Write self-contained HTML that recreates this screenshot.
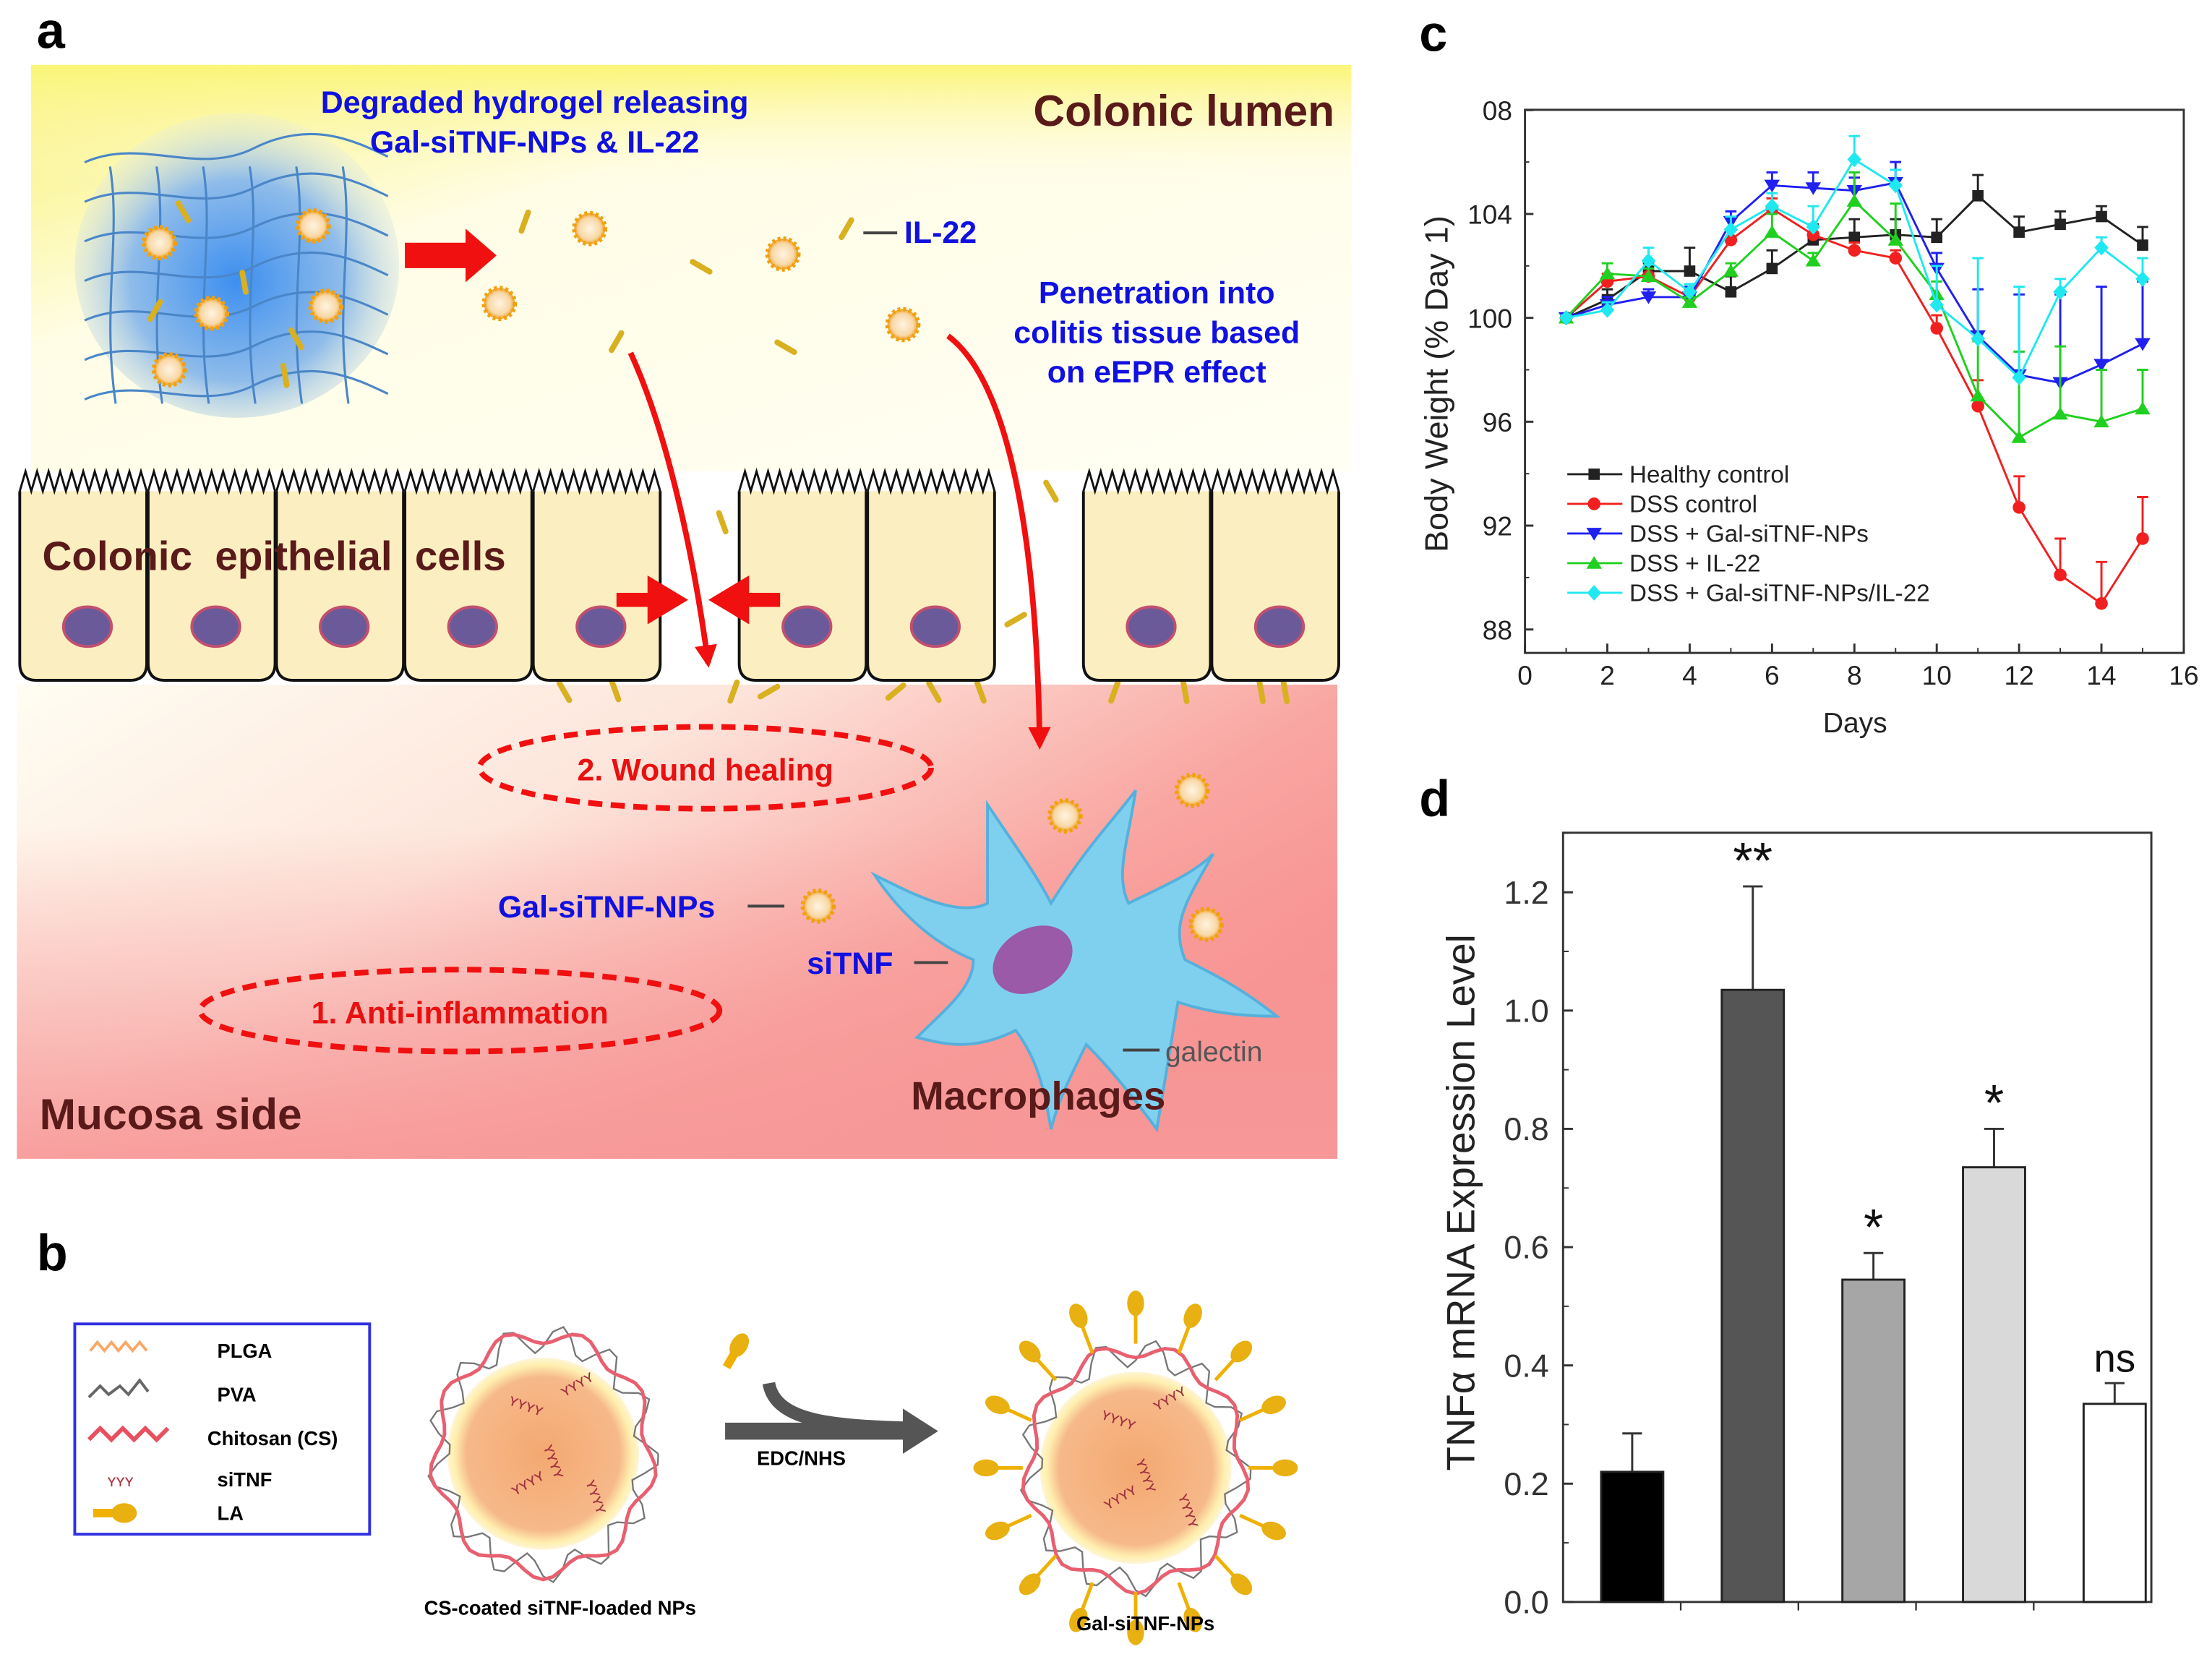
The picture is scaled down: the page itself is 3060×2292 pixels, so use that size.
<!DOCTYPE html>
<html><head><meta charset="utf-8">
<style>
html,body{margin:0;padding:0;background:#fff;}
svg{display:block;font-family:"Liberation Sans",Arial,sans-serif;}
</style></head>
<body>
<svg id="fig" width="3060" height="2292" viewBox="0 0 1568 1174" preserveAspectRatio="none" xmlns="http://www.w3.org/2000/svg">
<defs>
 <linearGradient id="lumen" x1="0" y1="0" x2="1" y2="1">
  <stop offset="0" stop-color="#f8f270"/><stop offset="0.35" stop-color="#fffde6"/><stop offset="1" stop-color="#fffff4"/>
 </linearGradient>
 <linearGradient id="lumenTop" x1="0" y1="0" x2="0" y2="1">
  <stop offset="0" stop-color="#fbf578"/><stop offset="0.3" stop-color="#fffbe0" stop-opacity="0"/>
 </linearGradient>
 <linearGradient id="mucosa" x1="0" y1="0" x2="1" y2="0.6">
  <stop offset="0" stop-color="#fffdf2"/><stop offset="0.4" stop-color="#fde6dc"/><stop offset="0.75" stop-color="#f9a6a2"/><stop offset="1" stop-color="#f79090"/>
 </linearGradient>
 <linearGradient id="mucosaV" x1="0" y1="0" x2="0" y2="1">
  <stop offset="0.3" stop-color="#f79898" stop-opacity="0"/><stop offset="1" stop-color="#f79898" stop-opacity="0.9"/>
 </linearGradient>
 <radialGradient id="gel" cx="0.5" cy="0.55" r="0.55">
  <stop offset="0" stop-color="#3d8ff0"/><stop offset="0.6" stop-color="#8fbcea"/><stop offset="1" stop-color="#e8eedc" stop-opacity="0.3"/>
 </radialGradient>
 <radialGradient id="core" cx="0.5" cy="0.5" r="0.5">
  <stop offset="0" stop-color="#f4a870"/><stop offset="0.8" stop-color="#f6b98a"/><stop offset="0.93" stop-color="#fff0b0"/><stop offset="1" stop-color="#fde9a0" stop-opacity="0.4"/>
 </radialGradient>
 <radialGradient id="npg" cx="0.5" cy="0.5" r="0.5">
  <stop offset="0" stop-color="#fff4e0"/><stop offset="0.7" stop-color="#f8d8a8"/><stop offset="1" stop-color="#f0a020"/>
 </radialGradient>
 <marker id="ah" viewBox="0 0 10 10" refX="8" refY="5" markerWidth="4" markerHeight="4" orient="auto"><path d="M0,0 L10,5 L0,10 z" fill="#f01010"/></marker>
</defs>

<text x="26" y="34" font-size="36" font-weight="bold">a</text>
<text x="26" y="900" font-size="36" font-weight="bold">b</text>
<text x="1006" y="36" font-size="36" font-weight="bold">c</text>
<text x="1006" y="578" font-size="36" font-weight="bold">d</text>

<g>
<rect x="22" y="46" width="936" height="288" fill="url(#lumen)"/>
<rect x="22" y="46" width="936" height="288" fill="url(#lumenTop)"/>
<rect x="12" y="485" width="936" height="336" fill="url(#mucosa)"/>
<rect x="12" y="485" width="936" height="336" fill="url(#mucosaV)"/>
<rect x="12" y="334" width="946" height="151" fill="#ffffff"/>
<ellipse cx="168" cy="188" rx="115" ry="108" fill="url(#gel)"/>
<g id="gelgrid" stroke="#4a86c8" stroke-width="1.6" fill="none"></g>
<g id="particlesA"></g>
<text x="379" y="80" font-size="22" font-weight="bold" fill="#1010e0" text-anchor="middle">Degraded hydrogel releasing</text>
<text x="379" y="108" font-size="22" font-weight="bold" fill="#1010e0" text-anchor="middle">Gal-siTNF-NPs &amp; IL-22</text>
<text x="946" y="89" font-size="31" font-weight="bold" fill="#5a1a1a" text-anchor="end">Colonic lumen</text>
<text x="641" y="172" font-size="22" font-weight="bold" fill="#1010e0">IL-22</text>
<line x1="612" y1="165" x2="636" y2="165" stroke="#444" stroke-width="2"/>
<text x="820" y="215" font-size="22" font-weight="bold" fill="#1010e0" text-anchor="middle">Penetration into</text>
<text x="820" y="243" font-size="22" font-weight="bold" fill="#1010e0" text-anchor="middle">colitis  tissue based</text>
<text x="820" y="271" font-size="22" font-weight="bold" fill="#1010e0" text-anchor="middle">on eEPR effect</text>
<path d="M287,172 L330,172 L330,162 L352,181 L330,200 L330,190 L287,190 z" fill="#f01010"/>
<g id="cells"></g>
<text x="30" y="404" font-size="29" font-weight="bold" fill="#5a1a1a" word-spacing="8">Colonic  epithelial  cells</text>
<path d="M440,423 L462,423 L462,413 L482,425 L462,437 L462,427 L440,427z" fill="#f01010" stroke="#f01010" stroke-width="6"/>
<path d="M550,423 L528,423 L528,413 L508,425 L528,437 L528,427 L550,427z" fill="#f01010" stroke="#f01010" stroke-width="6"/>
<path d="M447,250 C470,300 490,380 502,470" stroke="#f01010" stroke-width="4" fill="none" marker-end="url(#ah)"/>
<path d="M672,238 C715,270 735,380 737,528" stroke="#f01010" stroke-width="4" fill="none" marker-end="url(#ah)"/>
<ellipse cx="500" cy="544" rx="160" ry="29" fill="none" stroke="#f01010" stroke-width="4" stroke-dasharray="10,6"/>
<text x="500" y="553" font-size="22" font-weight="bold" fill="#e81010" text-anchor="middle">2. Wound healing</text>
<ellipse cx="326" cy="716" rx="184" ry="29" fill="none" stroke="#f01010" stroke-width="4" stroke-dasharray="10,6"/>
<text x="326" y="725" font-size="22" font-weight="bold" fill="#e81010" text-anchor="middle">1. Anti-inflammation</text>
<g>
 <path d="M700,570 C720,600 735,620 745,640 C770,600 790,580 805,560 C800,595 790,620 800,640 C820,630 845,620 860,605 C840,640 830,655 840,680 C860,690 880,700 905,720 C870,720 850,715 835,710 C830,740 825,770 820,800 C805,780 790,760 770,740 C760,760 750,780 745,800 C740,770 735,750 720,730 C690,745 670,740 650,735 C670,715 690,700 690,680 C665,670 640,650 620,620 C650,635 680,650 700,640 C700,620 700,600 700,570z" fill="#7fd0ee" stroke="#55b0dc" stroke-width="2"/>
 <ellipse cx="732" cy="680" rx="30" ry="22" fill="#9a5aa8" transform="rotate(-30 732 680)"/>
</g>
<text x="353" y="650" font-size="22" font-weight="bold" fill="#1010e0">Gal-siTNF-NPs</text>
<line x1="530" y1="642" x2="556" y2="642" stroke="#444" stroke-width="2"/>
<text x="572" y="690" font-size="22" font-weight="bold" fill="#1010e0">siTNF</text>
<line x1="648" y1="682" x2="672" y2="682" stroke="#444" stroke-width="2"/>
<text x="826" y="752" font-size="20" fill="#555">galectin</text>
<line x1="796" y1="744" x2="822" y2="744" stroke="#444" stroke-width="2"/>
<text x="736" y="786" font-size="28" font-weight="bold" fill="#5a1a1a" text-anchor="middle">Macrophages</text>
<text x="28" y="800" font-size="31" font-weight="bold" fill="#5a1a1a">Mucosa side</text>
</g>

<g>
<rect x="53" y="938" width="209" height="149" fill="#fff" stroke="#3030e0" stroke-width="2"/>
<path d="M64,957 l5,-6 l5,6 l5,-6 l5,6 l5,-6 l5,6 l5,-6 l5,6" stroke="#f8a868" stroke-width="2" fill="none"/>
<text x="154" y="962" font-size="14" font-weight="bold">PLGA</text>
<path d="M63,990 l8,-8 l6,6 l8,-6 l6,6 l8,-10 l6,8" stroke="#666" stroke-width="2" fill="none"/>
<text x="154" y="993" font-size="14" font-weight="bold">PVA</text>
<path d="M63,1020 l8,-8 l8,8 l8,-8 l8,8 l8,-8 l8,8 l8,-8" stroke="#e85060" stroke-width="3" fill="none"/>
<text x="147" y="1024" font-size="14" font-weight="bold">Chitosan (CS)</text>
<text x="76" y="1053" font-size="12" fill="#b03040">ʏʏʏ</text>
<text x="154" y="1053" font-size="14" font-weight="bold">siTNF</text>
<rect x="66" y="1069" width="20" height="6" fill="#f0b000"/><ellipse cx="88" cy="1072" rx="9" ry="7" fill="#e8b010"/>
<text x="154" y="1077" font-size="14" font-weight="bold">LA</text>
<g id="np1"></g>
<g id="np2"></g>
<g transform="translate(520,960) rotate(-60)"><rect x="-10" y="-3" width="14" height="6" fill="#f0b000"/><ellipse cx="8" cy="0" rx="9" ry="6" fill="#e8b010"/></g>
<path d="M545,980 C550,1010 600,1010 650,1012" stroke="#555" stroke-width="9" fill="none"/>
<path d="M514,1008 L640,1008 L640,998 L665,1014 L640,1030 L640,1020 L514,1020z" fill="#555"/>
<text x="568" y="1038" font-size="14" font-weight="bold" text-anchor="middle">EDC/NHS</text>
<text x="397" y="1144" font-size="14" font-weight="bold" text-anchor="middle">CS-coated siTNF-loaded NPs</text>
<text x="812" y="1155" font-size="14" font-weight="bold" text-anchor="middle">Gal-siTNF-NPs</text>
</g>

<g id="chartC">
<rect x="1081" y="77.8" width="467" height="384.8" fill="none" stroke="#333" stroke-width="1.5"/>
<text x="1315" y="519" font-size="20" text-anchor="middle" fill="#222">Days</text>
<text transform="translate(1026,272) rotate(-90)" font-size="23" text-anchor="middle" fill="#222">Body Weight (% Day 1)</text>
</g>

<g id="chartD">
<rect x="1108" y="590" width="417" height="545" fill="none" stroke="#333" stroke-width="1.5"/>
<text transform="translate(1045,852) rotate(-90)" font-size="28" text-anchor="middle" fill="#222">TNFα mRNA Expression Level</text>
</g>
</svg>

<script>
const NS='http://www.w3.org/2000/svg';
function mk(tag,attrs,parent){const e=document.createElementNS(NS,tag);for(const k in attrs)e.setAttribute(k,attrs[k]);if(parent)parent.appendChild(e);return e;}

const cDays=[1,2,3,4,5,6,7,8,9,10,11,12,13,14,15];
const cSeriesNames=['Healthy control','DSS control','DSS + Gal-siTNF-NPs','DSS + IL-22','DSS + Gal-siTNF-NPs/IL-22'];
const cHealthy=[100,100.7,101.8,101.8,101,101.9,103,103.1,103.2,103.1,104.7,103.3,103.6,103.9,102.8];
const cHealthyErr=[0.1,0.4,0.3,0.9,0.6,0.7,0.6,0.7,0.6,0.7,0.8,0.6,0.5,0.4,0.7];
const cDss=[100,101.4,101.6,100.8,103,104.2,103.2,102.6,102.3,99.6,96.6,92.7,90.1,89.0,91.5];
const cDssErr=[0.1,0.3,0.3,0.3,0.4,0.4,0.3,0.3,0.3,0.5,1.0,1.2,1.4,1.6,1.6];
const cGal=[100,100.5,100.8,100.8,103.7,105.1,105,104.9,105.2,101.9,99.3,97.8,97.5,98.2,99.0];
const cGalErr=[0.1,0.3,0.3,0.4,0.4,0.5,0.6,0.5,0.8,0.6,1.8,3.1,3.4,3.0,2.4];
const cIl22=[100,101.7,101.6,100.6,101.8,103.3,102.2,104.5,103,100.9,97,95.4,96.3,96,96.5];
const cIl22Err=[0.1,0.4,0.3,0.2,0.3,0.7,0.3,1.1,1.4,0.5,2.1,3.3,2.6,2.0,1.5];
const cCombo=[100,100.3,102.2,101,103.4,104.3,103.5,106.1,105.1,100.5,99.2,97.7,101,102.7,101.5];
const cComboErr=[0.1,0.3,0.5,0.3,0.5,0.5,0.8,0.9,0.6,1.5,3.1,3.5,0.5,0.4,0.8];
const cYTicks=[88,92,96,100,104,108];
const cYTickLabels=['88','92','96','100','104','08'];
const cXTicks=[0,2,4,6,8,10,12,14,16];

const dGroups=['Healthy','DSS','Gal-siTNF-NPs','IL-22','Gal-siTNF-NPs/IL-22'];
const dValues=[0.22,1.035,0.545,0.735,0.335];
const dErrors=[0.065,0.175,0.045,0.065,0.035];
const dSig=['','**','*','*','ns'];
const dYTicks=[0,0.2,0.4,0.6,0.8,1.0,1.2];
const dYTickLabels=['0.0','0.2','0.4','0.6','0.8','1.0','1.2'];

(function(){
 const g=document.getElementById('chartC');
 const X=d=>1081+d*(467/16);
 const Y=v=>455.2-(v-87.5)*18.4;
 cYTicks.forEach((t,i)=>{
  const l=mk('line',{x1:1081,x2:1087,y1:Y(t),y2:Y(t),stroke:'#333','stroke-width':1.5},g);
  
  if(i<cYTicks.length-1){const m=mk('line',{x1:1081,x2:1084,y1:Y(t+2),y2:Y(t+2),stroke:'#333','stroke-width':1},g);}
  const tx=mk('text',{x:1072,y:Y(t)+7,'font-size':19,'text-anchor':'end',fill:'#222'},g);tx.textContent=cYTickLabels[i];
  
 });
 cXTicks.forEach(t=>{
  const l=mk('line',{x1:X(t),x2:X(t),y1:462.6,y2:456,stroke:'#333','stroke-width':1.5},g);
  
  const m=mk('line',{x1:X(t+1),x2:X(t+1),y1:462.6,y2:459,stroke:'#333','stroke-width':1},g);
  
  const tx=mk('text',{x:X(t),y:485,'font-size':19,'text-anchor':'middle',fill:'#222'},g);tx.textContent=String(t);
  
 });
 const series=[[cHealthy,cHealthyErr,'#222','sq'],[cDss,cDssErr,'#f02020','ci'],[cGal,cGalErr,'#2020f0','td'],[cIl22,cIl22Err,'#20d020','tu'],[cCombo,cComboErr,'#20e8f0','di']];
 function marker(kind,x,y,col,parent){
  let e;
  if(kind==='sq')e=mk('rect',{x:x-4,y:y-4,width:8,height:8,fill:col},parent);
  else if(kind==='ci')e=mk('circle',{cx:x,cy:y,r:4.5,fill:col},parent);
  else if(kind==='td')e=mk('path',{d:`M${x-5.5},${y-4} L${x+5.5},${y-4} L${x},${y+5} z`,fill:col},parent);
  else if(kind==='tu')e=mk('path',{d:`M${x-5.5},${y+4} L${x+5.5},${y+4} L${x},${y-5} z`,fill:col},parent);
  else e=mk('path',{d:`M${x},${y-5.5} L${x+5},${y} L${x},${y+5.5} L${x-5},${y} z`,fill:col},parent);
  return e;
 }
 series.forEach((s,si)=>{
  const [vals,errs,col,kind]=s;
  const sg=mk('g',{},g);
  
  
  vals.forEach((v,i)=>{
   const x=X(cDays[i]);
   const e=mk('path',{d:`M${x},${Y(v)} L${x},${Y(v+errs[i])} M${x-4},${Y(v+errs[i])} L${x+4},${Y(v+errs[i])}`,stroke:col,'stroke-width':1.5,fill:'none'},sg);
   
  });
  const pl=mk('polyline',{points:vals.map((v,i)=>X(cDays[i])+','+Y(v)).join(' '),fill:'none',stroke:col,'stroke-width':1.5},sg);
  
  vals.forEach((v,i)=>{const m=marker(kind,X(cDays[i]),Y(v),col,sg);});
  const ly=336+si*21;
  const ll=mk('line',{x1:1111,x2:1150,y1:ly,y2:ly,stroke:col,'stroke-width':1.5},g);
  
  const lm=marker(kind,1130,ly,col,g);
  const lt=mk('text',{x:1155,y:ly+6,'font-size':17,fill:'#222'},g);lt.textContent=cSeriesNames[si];
  
 });
})();

(function(){
 const g=document.getElementById('chartD');
 const Y=v=>1135-v*419;
 const X=i=>1157+i*85.5;
 const fills=['#000000','#555555','#a6a6a6','#d9d9d9','#ffffff'];
 dYTicks.forEach((t,i)=>{
  const l=mk('line',{x1:1108,x2:1115,y1:Y(t),y2:Y(t),stroke:'#333','stroke-width':1.5},g);
  
  const m=mk('line',{x1:1108,x2:1112,y1:Y(t+0.1),y2:Y(t+0.1),stroke:'#333','stroke-width':1},g);
  
  const tx=mk('text',{x:1098,y:Y(t)+8,'font-size':23,'text-anchor':'end',fill:'#333'},g);tx.textContent=dYTickLabels[i];
  
 });
 for(let k=1;k<5;k++){const t=mk('line',{x1:1108+k*83.4,x2:1108+k*83.4,y1:1135,y2:1141,stroke:'#333','stroke-width':1.2},g);}
 dValues.forEach((v,i)=>{
  const x=X(i),top=Y(v+dErrors[i]);
  const e=mk('path',{d:`M${x},${Y(v)} L${x},${top} M${x-7},${top} L${x+7},${top}`,stroke:'#333','stroke-width':1.5,fill:'none'},g);
  
  const b=mk('rect',{x:x-22,y:Y(v),width:44,height:Y(0)-Y(v),fill:fills[i],stroke:'#222','stroke-width':1.5},g);
  
  if(dSig[i]){const isNs=dSig[i]==='ns';const s=mk('text',{x:x,y:isNs?top-8:top-6,'font-size':isNs?28:36,'text-anchor':'middle',fill:'#111'},g);s.textContent=dSig[i];
   }
 });
})();

(function(){
 const gg=document.getElementById('gelgrid');
 for(let i=0;i<7;i++){const y=105+i*28;mk('path',{d:`M60,${y+10} C100,${y-8} 140,${y+20} 180,${y} S250,${y-6} 275,${y+6}`},gg);}
 for(let i=0;i<6;i++){const x=78+i*33;mk('path',{d:`M${x},118 C${x+8},168 ${x-6},218 ${x+4},286`},gg);}
 const pa=document.getElementById('particlesA');
 function np(x,y,r){const e=mk('circle',{cx:x,cy:y,r:r,fill:'url(#npg)',stroke:'#f0a010','stroke-width':3,'stroke-dasharray':'2,2'},pa);}
 function il(x,y,a){const e=mk('path',{d:`M${x-7},${y} L${x+7},${y}`,stroke:'#d8b020','stroke-width':4,'stroke-linecap':'round',transform:`rotate(${a} ${x} ${y})`},pa);}
 [[222,160],[113,172],[150,222],[231,217],[120,262],[418,162],[555,180],[354,215],[640,230],[845,560],[755,578],[735,705],[855,655],[580,642]].forEach(p=>np(p[0],p[1],11));
 [[130,150,60],[173,200,80],[110,220,-60],[210,240,60],[202,266,80],[372,157,-70],[497,189,30],[437,242,-60],[557,246,30],[600,162,-60],[512,370,70],[745,348,60],[720,439,-30],[400,490,60],[436,489,70],[520,490,-70],[545,490,-30],[635,490,-40],[662,490,60],[695,490,70],[790,490,-70],[840,490,80],[894,490,80],[911,490,80]].forEach(p=>il(p[0],p[1],p[2]));
 const cg=document.getElementById('cells');
 const cellXs=[14,105,196,287,378,524,615,768,859];
 cellXs.forEach(x=>{
  const w=90;
  const c=mk('path',{d:`M${x},348 L${x},470 Q${x},482 ${x+12},482 L${x+w-12},482 Q${x+w},482 ${x+w},470 L${x+w},348`,fill:'#fbeec0',stroke:'#111','stroke-width':2},cg);
  
  let d=`M${x},348`;for(let k=0;k<11;k++){d+=` l${w/22},-14 l${w/22},14`;}
  const v=mk('path',{d:d,fill:'none',stroke:'#111','stroke-width':1.5},cg);
  const n=mk('ellipse',{cx:x+48,cy:444,rx:17,ry:14,fill:'#6a5a9a',stroke:'#c05070','stroke-width':2},cg);
 });
})();

(function(){
 function particle(id,cx,cy,r,la){
  const g=document.getElementById(id);
  mk('circle',{cx:cx,cy:cy,r:r,fill:'url(#core)'},g);
  let d1='',d2='';
  for(let k=0;k<=72;k++){const a=k/72*2*Math.PI;const r1=r+8+5*Math.sin(a*9);const r2=r+6+9*Math.sin(a*13+1);
   d1+=(k?'L':'M')+(cx+r1*Math.cos(a)).toFixed(1)+','+(cy+r1*1.1*Math.sin(a)).toFixed(1);
   d2+=(k?'L':'M')+(cx+r2*Math.cos(a)).toFixed(1)+','+(cy+r2*1.1*Math.sin(a)).toFixed(1);}
  mk('path',{d:d2,fill:'none',stroke:'#777','stroke-width':1.2},g);
  mk('path',{d:d1,fill:'none',stroke:'#e86070','stroke-width':2.5},g);
  [[-25,-35,20],[15,-40,-30],[0,-5,70],[30,20,70],[-20,30,-30]].forEach(p=>{const t=mk('text',{x:cx+p[0],y:cy+p[1],'font-size':12,fill:'#a03040',transform:`rotate(${p[2]} ${cx+p[0]} ${cy+p[1]})`},g);t.textContent='ʏʏʏʏ';});
  if(la){for(let k=0;k<16;k++){const a=k/16*2*Math.PI;const x=cx+(r+38)*Math.cos(a),y=cy+(r+38)*1.1*Math.sin(a);
   const x0=cx+(r+12)*Math.cos(a),y0=cy+(r+12)*1.1*Math.sin(a);
   mk('line',{x1:x0,y1:y0,x2:x,y2:y,stroke:'#f0b000','stroke-width':2.5},g);
   mk('ellipse',{cx:x,cy:y,rx:9,ry:6,fill:'#e8b010',transform:`rotate(${a*180/Math.PI} ${x} ${y})`},g);}}
 }
 particle('np1',385,1030,68,false);
 particle('np2',805,1040,68,true);
})();
</script>
</body></html>
